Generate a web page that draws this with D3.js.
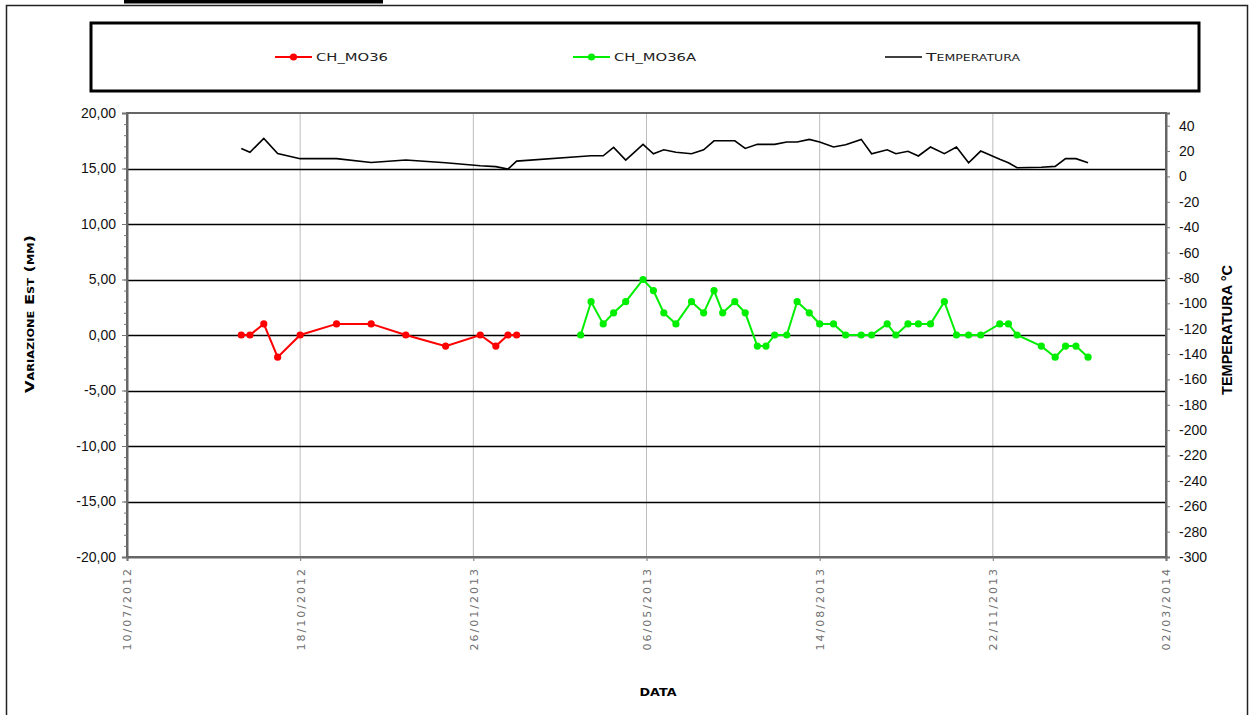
<!DOCTYPE html>
<html>
<head>
<meta charset="utf-8">
<script src="https://cdn.jsdelivr.net/npm/d3@7"></script>
<style>
    body { margin: 0; background: #fff; }
    svg { display: block; }
</style>
</head>
<body>
<div id="chart"></div>
<script>
// Measurement dates and values (mm) for each gauge, plus temperature read on the same days
const datesMO36 = ["2012-09-14", "2012-09-19", "2012-09-27", "2012-10-05", "2012-10-18", "2012-11-08",
    "2012-11-28", "2012-12-18", "2013-01-10", "2013-01-30", "2013-02-08", "2013-02-15", "2013-02-20"];
const valuesMO36 = [0, 0, 1, -2, 0, 1, 1, 0, -1, 0, -1, 0, 0];
const tempMO36 = [22, 19, 30, 18, 14, 14, 11, 13, 10.8, 8.4, 7.7, 5.8, 12.1];

const datesMO36A = ["2013-03-29", "2013-04-04", "2013-04-11", "2013-04-17", "2013-04-24", "2013-05-04",
    "2013-05-10", "2013-05-16", "2013-05-23", "2013-06-01", "2013-06-08", "2013-06-14", "2013-06-19",
    "2013-06-26", "2013-07-02", "2013-07-09", "2013-07-14", "2013-07-19", "2013-07-26", "2013-08-01",
    "2013-08-08", "2013-08-14", "2013-08-22", "2013-08-29", "2013-09-07", "2013-09-13", "2013-09-22",
    "2013-09-27", "2013-10-04", "2013-10-10", "2013-10-17", "2013-10-25", "2013-11-01", "2013-11-08",
    "2013-11-15", "2013-11-26", "2013-12-01", "2013-12-06", "2013-12-20", "2013-12-28", "2014-01-03",
    "2014-01-09", "2014-01-16"];
const valuesMO36A = [0, 3, 1, 2, 3, 5, 4, 2, 1, 3, 2, 4, 2, 3, 2, -1, -1, 0, 0, 3, 2, 1, 1,
    0, 0, 0, 1, 0, 1, 1, 1, 3, 0, 0, 0, 1, 1, 0, -1, -2, -1, -1, -2];
const tempMO36A = [15.7, 16.3, 16.3, 22.9, 12.9, 25.3, 17.9, 21, 19, 17.9, 21, 28.1, 28.1,
    28.1, 22.1, 25.3, 25.3, 25.3, 27.1, 27.1, 29.2, 27.1, 23.2, 25, 29.2, 17.9, 21,
    17.9, 19.8, 16.1, 23.2, 17.9, 23.2, 10.8, 20, 13.5, 10.8, 6.9, 7.2, 7.9, 14, 14, 10.8];

// Axis ticks
const xTickLabels = ["10/07/2012", "18/10/2012", "26/01/2013", "06/05/2013", "14/08/2013", "22/11/2013", "02/03/2014"];
const leftTicks = [-20, -15, -10, -5, 0, 5, 10, 15, 20];
const rightTicks = [-300, -280, -260, -240, -220, -200, -180, -160, -140, -120, -100, -80, -60, -40, -20, 0, 20, 40];
const seriesNames = ["CH_MO36", "CH_MO36A", "Temperatura"];

const chart = {width: 1255, height: 715};
chart.margin = {top: 113, right: 89, bottom: 158, left: 127};
chart.innerWidth = chart.width - chart.margin.left - chart.margin.right;
chart.innerHeight = chart.height - chart.margin.top - chart.margin.bottom;

const wideFont = "'DejaVu Sans', sans-serif";
const armFont = "'Liberation Sans', Arial, sans-serif";

const parseDay = d3.utcParse("%Y-%m-%d");
const parseTick = d3.utcParse("%d/%m/%Y");
const fmtTick = d3.utcFormat("%d/%m/%Y");
const itFormat = d3.formatLocale({decimal: ",", thousands: ".", grouping: [3], currency: ["", ""], minus: "-"});

const svgRoot = d3.select("#chart")
    .append("svg")
    .attr("width", chart.width)
    .attr("height", chart.height);

// Outer frame and the black bar cut off at the top
svgRoot.append("rect")
    .attr("x", 6.5).attr("y", 5.5)
    .attr("width", 1241).attr("height", 720)
    .attr("fill", "none")
    .attr("stroke", "#222")
    .attr("stroke-width", 1.5);
svgRoot.append("rect")
    .attr("x", 124).attr("y", 0)
    .attr("width", 259).attr("height", 3.5)
    .attr("fill", "#000");

const svg = svgRoot.append("g")
    .attr("transform", `translate(${chart.margin.left}, ${chart.margin.top})`);

// Scales
const x = d3.scaleUtc()
    .domain([parseTick(xTickLabels[0]), parseTick(xTickLabels[xTickLabels.length - 1])])
    .range([0, chart.innerWidth]);
const yLeft = d3.scaleLinear().domain([-20, 20]).range([chart.innerHeight, 0]);
const yRight = d3.scaleLinear().domain([-300, 50]).range([chart.innerHeight, 0]);

// Vertical grid lines (light gray)
svg.append("g")
    .selectAll("line")
    .data(xTickLabels.slice(1, -1).map(parseTick))
    .join("line")
    .attr("x1", d => x(d)).attr("x2", d => x(d))
    .attr("y1", 0).attr("y2", chart.innerHeight)
    .attr("stroke", "#bdbdbd")
    .attr("stroke-width", 1);

// Horizontal grid lines (black)
svg.append("g")
    .selectAll("line")
    .data(leftTicks.slice(1, -1))
    .join("line")
    .attr("x1", 0).attr("x2", chart.innerWidth)
    .attr("y1", d => Math.round(yLeft(d)) + 0.5).attr("y2", d => Math.round(yLeft(d)) + 0.5)
    .attr("stroke", "#000")
    .attr("stroke-width", 1.3);

// Plot border
svg.append("rect")
    .attr("x", 0).attr("y", 0)
    .attr("width", chart.innerWidth).attr("height", chart.innerHeight)
    .attr("fill", "none")
    .attr("stroke", "#666")
    .attr("stroke-width", 2);

// Left axis: minor ticks every 1 mm, labels every 5
const leftAxis = svg.append("g")
    .call(d3.axisLeft(yLeft).tickValues(leftTicks).tickSize(5).tickPadding(6)
        .tickFormat(d => itFormat.format(".2f")(d)));
svg.append("g")
    .call(d3.axisLeft(yLeft).tickValues(d3.range(-20, 21, 1)).tickSize(3).tickFormat(""))
    .call(g => g.select(".domain").remove());

// Right axis
const rightAxis = svg.append("g")
    .attr("transform", `translate(${chart.innerWidth}, 0)`)
    .call(d3.axisRight(yRight).tickValues(rightTicks).tickSize(4).tickPadding(9)
        .tickFormat(d => itFormat.format("d")(d)));

// Bottom axis with rotated date labels
const bottomAxis = svg.append("g")
    .attr("transform", `translate(0, ${chart.innerHeight})`)
    .call(d3.axisBottom(x).tickValues(xTickLabels.map(parseTick)).tickSize(4).tickFormat(fmtTick));

svg.selectAll(".domain").attr("stroke", "#666").attr("stroke-width", 2);
svg.selectAll(".tick line").attr("stroke", "#777");

leftAxis.selectAll("text")
    .attr("font-family", armFont).attr("font-size", 14).attr("fill", "#111");
rightAxis.selectAll("text")
    .attr("font-family", armFont).attr("font-size", 14).attr("fill", "#111");
bottomAxis.selectAll("text")
    .attr("font-family", wideFont)
    .attr("font-size", 11)
    .attr("letter-spacing", 2)
    .attr("fill", "#707070")
    .attr("text-anchor", "end")
    .attr("transform", "rotate(-90)")
    .attr("x", -10).attr("y", 0).attr("dy", "0.35em");

// Axis titles
svgRoot.append("text")
    .attr("transform", "translate(34, 314) rotate(-90)")
    .attr("text-anchor", "middle")
    .attr("font-family", wideFont)
    .attr("font-weight", "bold")
    .attr("font-size", 11.5)
    .attr("font-variant", "small-caps")
    .attr("textLength", 158).attr("lengthAdjust", "spacingAndGlyphs")
    .text("Variazione Est (mm)");
svgRoot.append("text")
    .attr("transform", "translate(1232, 330) rotate(-90)")
    .attr("text-anchor", "middle")
    .attr("font-family", armFont)
    .attr("font-weight", "bold")
    .attr("font-size", 14.5)
    .text("TEMPERATURA °C");
svgRoot.append("text")
    .attr("x", 658).attr("y", 696)
    .attr("text-anchor", "middle")
    .attr("font-family", wideFont)
    .attr("font-weight", "bold")
    .attr("font-size", 10)
    .attr("textLength", 37).attr("lengthAdjust", "spacingAndGlyphs")
    .text("DATA");

// Series
const mo36 = datesMO36.map((d, i) => ({date: parseDay(d), value: valuesMO36[i]}));
const mo36a = datesMO36A.map((d, i) => ({date: parseDay(d), value: valuesMO36A[i]}));
const temp = datesMO36.concat(datesMO36A).map((d, i) => ({date: parseDay(d), value: tempMO36.concat(tempMO36A)[i]}));

const tempLine = d3.line().x(d => x(d.date)).y(d => yRight(d.value));
const mmLine = d3.line().x(d => x(d.date)).y(d => yLeft(d.value));

svg.append("path")
    .datum(temp)
    .attr("d", tempLine)
    .attr("fill", "none")
    .attr("stroke", "#000")
    .attr("stroke-width", 1.6);

const drawSeries = (data, colour) => {
    svg.append("path")
        .datum(data)
        .attr("d", mmLine)
        .attr("fill", "none")
        .attr("stroke", colour)
        .attr("stroke-width", 2);
    svg.append("g")
        .selectAll("circle")
        .data(data)
        .join("circle")
        .attr("cx", d => x(d.date))
        .attr("cy", d => yLeft(d.value))
        .attr("r", 3.6)
        .attr("fill", colour);
}
drawSeries(mo36, "#ff0000");
drawSeries(mo36a, "#00ee00");

// Legend box
const legend = svgRoot.append("g");
legend.append("rect")
    .attr("x", 91).attr("y", 23)
    .attr("width", 1108).attr("height", 68)
    .attr("fill", "#fff")
    .attr("stroke", "#000")
    .attr("stroke-width", 3);

const legendItems = [
    {name: seriesNames[0], colour: "#ff0000", x: 275, marker: true, len: 72},
    {name: seriesNames[1], colour: "#00ee00", x: 573, marker: true, len: 82},
    {name: seriesNames[2], colour: "#000", x: 885, marker: false, len: 94}
];
legendItems.forEach(item => {
    legend.append("line")
        .attr("x1", item.x).attr("x2", item.x + 37)
        .attr("y1", 57).attr("y2", 57)
        .attr("stroke", item.colour)
        .attr("stroke-width", item.marker ? 2 : 1.6);
    if (item.marker) {
        legend.append("circle")
            .attr("cx", item.x + 18.5).attr("cy", 57)
            .attr("r", 3.6)
            .attr("fill", item.colour);
    }
    legend.append("text")
        .attr("x", item.x + 41).attr("y", 61)
        .attr("font-family", wideFont)
        .attr("font-size", 11)
        .attr("font-variant", "small-caps")
        .attr("fill", "#222")
        .attr("textLength", item.len).attr("lengthAdjust", "spacingAndGlyphs")
        .text(item.name);
});
</script>
</body>
</html>
